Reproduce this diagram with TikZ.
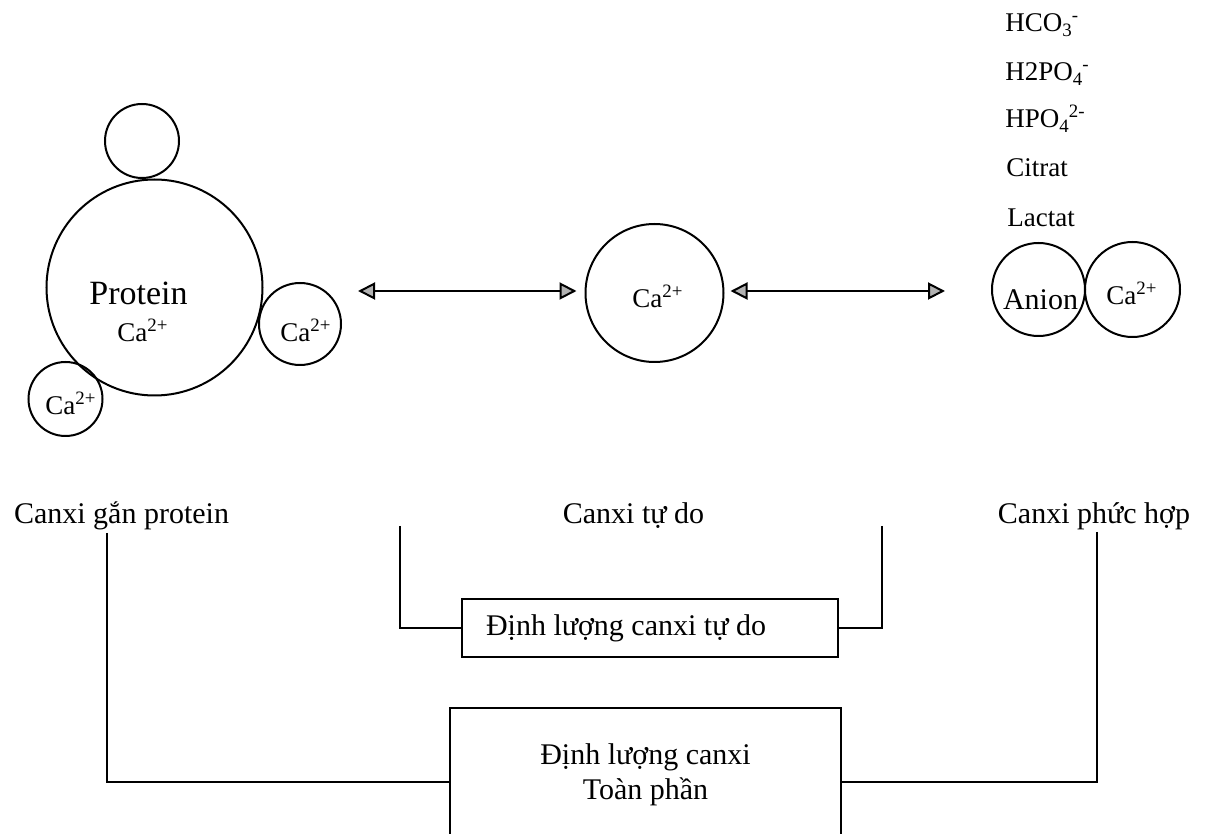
\documentclass[tikz,border=0pt]{standalone}
\usepackage{fontspec}
\setmainfont{Liberation Serif}
\usetikzlibrary{arrows.meta}
\newcommand{\subsup}[2]{\textsubscript{#1}\kern-0.5pt\textsuperscript{#2}}
\newcommand{\caion}{Ca\textsuperscript{2+}}

\begin{document}
\begin{tikzpicture}[x=0.5pt,y=-0.5pt,
  ball/.style={draw,circle,line width=1pt,inner sep=0pt},
  lbl/.style={anchor=base,inner sep=0pt,font=\fontsize{15}{18}\selectfont},
  ion/.style={anchor=base west,inner sep=0pt,font=\fontsize{13.5}{16}\selectfont},
  boxed/.style={draw,rectangle,line width=1pt,font=\fontsize{15}{17.5}\selectfont},
  dblarrow/.style={line width=1pt,{Triangle[length=8.5pt,width=8.5pt,fill=gray!60]}-{Triangle[length=8.5pt,width=8.5pt,fill=gray!60]}}]
\useasboundingbox (0,0) rectangle (1207,834);
% protein and bound calcium
\node[ball,minimum size=108pt] (protein) at (154.5,287.5) {};
\node[ball,minimum size=37pt] (topball) at (142,141) {};
\node[ball,minimum size=41pt] (rball) at (300,324) {};
\node[ball,minimum size=37pt] (lball) at (65.5,399) {};
\node[anchor=base,inner sep=0pt,font=\fontsize{17}{20}\selectfont] (protxt) at (138.5,305) {Protein};
\node[ion] (caprot) at (117,342) {\caion};
\node[ion] (carball) at (280,342) {\caion};
\node[ion] (calball) at (45,415) {\caion};
% free calcium
\node[ball,minimum size=69pt] (free) at (654.5,293) {};
\node[ion] (cafree) at (632,308) {\caion};
% complexed calcium
\node[ball,minimum size=46.5pt] (anion) at (1038.5,289.5) {};
\node[ball,minimum size=47.5pt] (cacomp) at (1132.5,289.5) {};
\node[anchor=base,inner sep=0pt,font=\fontsize{15}{18}\selectfont] (aniontxt) at (1040.5,310) {Anion};
\node[ion] (cacomptxt) at (1106,305) {\caion};
\node[ion] (hco) at (1005,32) {HCO\subsup{3}{-}};
\node[ion] (hhpo) at (1005,81) {H2PO\subsup{4}{-}};
\node[ion] (hpo) at (1005,128) {HPO\subsup{4}{2-}};
\node[ion] (citrat) at (1006,177) {Citrat};
\node[ion] (lactat) at (1007,227) {Lactat};
% equilibria
\coordinate (l1) at (358,291);
\coordinate (r1) at (945,291);
\draw[dblarrow,shorten >=4pt] (l1) -- (l1 -| free.west);
\draw[dblarrow,shorten <=3pt] (l1 -| free.east) -- (r1);
% labels
\node[lbl] (lblprot) at (121.5,524) {Canxi gắn protein};
\node[lbl] (lblfree) at (633.5,524) {Canxi tự do};
\node[lbl] (lblcomp) at (1094,524) {Canxi phức hợp};
% measurement boxes
\node[boxed,text width=164pt,inner xsep=12pt,minimum height=29pt,align=flush left] (freebox) at (650,628) {Định lượng canxi tự do};
\node[boxed,minimum width=195.5pt,minimum height=67pt,align=center] (total) at (645.5,775) {Định lượng canxi\\Toàn phần};
\coordinate (fl) at (400,526);
\coordinate (fr) at (882,526);
\coordinate (pl) at (107,533);
\coordinate (cr) at (1097,532);
\draw[line width=1pt] (fl) |- (freebox.west);
\draw[line width=1pt] (fr) |- (freebox.east);
\draw[line width=1pt] (pl) |- ([yshift=-3.5pt]total.west);
\draw[line width=1pt] (cr) |- ([yshift=-3.5pt]total.east);
\end{tikzpicture}
\end{document}
